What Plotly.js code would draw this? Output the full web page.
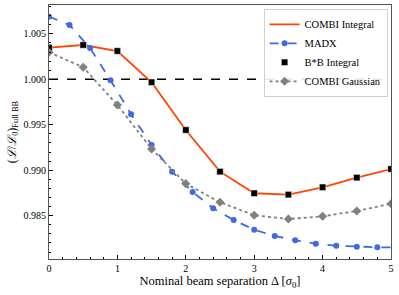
<!DOCTYPE html>
<html><head><meta charset="utf-8">
<script src="https://cdn.plot.ly/plotly-3.0.1.min.js"></script>
<style>html,body{margin:0;padding:0;background:#fff}#plot{width:399px;height:295px}</style>
</head><body><div id="plot"></div>
<script>
const sepIntegral = [0, 0.5, 1, 1.5, 2, 2.5, 3, 3.5, 4, 4.5, 5];
const combiIntegral = [1.00348, 1.00377, 1.00311, 0.99967, 0.99442, 0.98984, 0.98746, 0.98731, 0.98812, 0.98918, 0.99013];
const bbIntegral = [1.00348, 1.00377, 1.00311, 0.99967, 0.99442, 0.98984, 0.98746, 0.98731, 0.98812, 0.98918, 0.99013];
const sepMadx = [0, 0.3, 0.6, 0.9, 1.2, 1.5, 1.8, 2.1, 2.4, 2.7, 3.0, 3.3, 3.6, 3.9, 4.2, 4.5, 4.8, 5.1];
const madx = [1.00689, 1.00597, 1.00344, 0.99989, 0.99615, 0.99277, 0.98984, 0.98760, 0.98581, 0.98452, 0.98345, 0.98276, 0.98229, 0.98191, 0.98169, 0.98158, 0.98152, 0.98150];
const sepGauss = [0, 0.5, 1, 1.5, 2, 2.5, 3, 3.5, 4, 4.5, 5];
const combiGauss = [1.00297, 1.00132, 0.99717, 0.99233, 0.98852, 0.98647, 0.98504, 0.98463, 0.98493, 0.98551, 0.98631];
const refX = [0, 5];
const refY = [1.0, 1.0];
const xTicks = [0, 1, 2, 3, 4, 5];
const yTicks = [0.985, 0.990, 0.995, 1.000, 1.005];

const font = "Liberation Serif";
const traces = [
  {x: refX, y: refY, mode: 'lines', line: {color: '#000', dash: 'dash', width: 1.3}, showlegend: false, hoverinfo: 'skip'},
  {x: sepGauss, y: combiGauss, mode: 'lines+markers', name: 'COMBI Gaussian',
   line: {color: '#808080', dash: 'dot', width: 1.8}, marker: {symbol: 'diamond', size: 7, color: '#808080'}},
  {x: sepMadx, y: madx, mode: 'lines+markers', name: 'MADX',
   line: {color: '#4169E1', dash: 'dash', width: 1.8}, marker: {symbol: 'circle', size: 6, color: '#4169E1'}},
  {x: sepIntegral, y: combiIntegral, mode: 'lines', name: 'COMBI Integral',
   line: {color: '#FF4500', width: 1.8}},
  {x: sepIntegral, y: bbIntegral, mode: 'markers', name: 'B*B Integral',
   marker: {symbol: 'square', size: 6.5, color: '#000', line: {color: '#fff', width: 0.5}}}
];
const layout = {
  width: 399, height: 295,
  margin: {l: 49, r: 8, t: 5, b: 36},
  paper_bgcolor: '#fff', plot_bgcolor: '#fff',
  font: {family: font, size: 10, color: '#000'},
  showlegend: true,
  legend: {x: 0.99, y: 0.985, xanchor: 'right', yanchor: 'top', bgcolor: 'rgba(255,255,255,0.9)',
    bordercolor: '#d0d0d0', borderwidth: 1, font: {family: font, size: 10.5}, traceorder: 'normal',
    itemwidth: 30, tracegroupgap: 0},
  xaxis: {range: [0, 5], tickvals: xTicks, ticktext: xTicks.map(String), ticks: 'inside', ticklen: 4,
    tickcolor: '#000', showline: true, linecolor: '#555', linewidth: 1, mirror: true, showgrid: false,
    zeroline: false, tickfont: {family: font, size: 10},
    minor: {dtick: 0.2, tick0: 0, ticks: 'inside', ticklen: 2, tickcolor: '#000', showgrid: false},
    title: {text: 'Nominal beam separation Δ [<i>σ</i><sub>0</sub>]', font: {family: font, size: 12.5}, standoff: 3}},
  yaxis: {range: [0.98023, 1.00817], tickvals: yTicks, ticktext: yTicks.map(v => v.toFixed(3)), ticks: 'inside',
    ticklen: 4, tickcolor: '#000', showline: true, linecolor: '#555', linewidth: 1, mirror: true, showgrid: false,
    zeroline: false, tickfont: {family: font, size: 10},
    minor: {dtick: 0.001, tick0: 0.98, ticks: 'inside', ticklen: 2, tickcolor: '#000', showgrid: false},
    title: {text: '(<i>ℒ</i>/<i>ℒ</i><sub>0</sub>)<sub>Full BB</sub>', font: {family: font, size: 12}, standoff: 4}}
};
Plotly.newPlot('plot', [traces[0], traces[3], traces[2], traces[4], traces[1]], layout, {displayModeBar: false, staticPlot: true});
</script></body></html>
